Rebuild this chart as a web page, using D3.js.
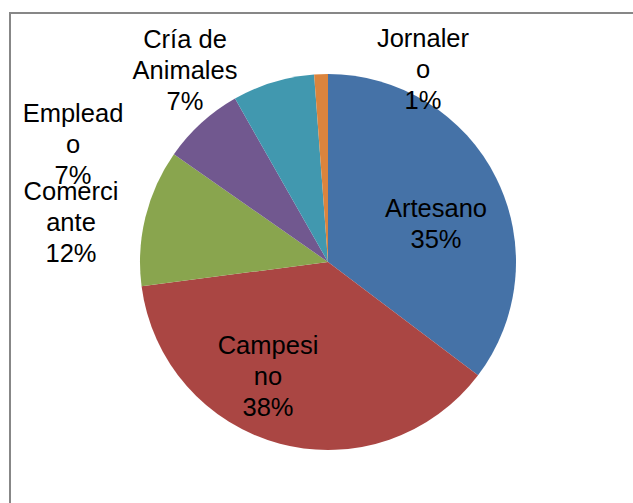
<!DOCTYPE html>
<html>
<head>
<meta charset="utf-8">
<script src="https://cdn.jsdelivr.net/npm/d3@7"></script>
<style>
  html, body { margin: 0; padding: 0; background: #fff; }
  svg { display: block; }
  .slice-label { font-family: "Liberation Sans", Arial, sans-serif; font-size: 25.5px; fill: #000; }
</style>
</head>
<body>
<svg id="chart"></svg>
<script>
// categories and counts (shown as rounded percentages)
const categories = ["Artesano", "Campesino", "Comerciante", "Empleado", "Cría de Animales", "Jornalero"];
const counts = [30, 32, 10, 6, 6, 1];
const sliceColors = ["#4572A7", "#AA4643", "#89A54E", "#71588F", "#4198AF", "#DB843D"];

// label placement (best fit) relative to the pie centre: [centre x, first baseline]
const labelPlacement = [[108, -45], [-60, 92], [-257, -62], [-255, -140], [-143, -214], [95, -215]];

const width = 633, height = 503;
const cx = 328, cy = 262, radius = 188;
const wrapWidth = 105.5, lineHeight = 31;

const svg = d3.select("#chart")
    .attr("width", width)
    .attr("height", height);

// chart area frame (only top/left edge visible in the cropped picture)
svg.append("rect")
    .attr("x", 10).attr("y", 13)
    .attr("width", 800).attr("height", 700)
    .attr("fill", "none")
    .attr("stroke", "#878787")
    .attr("stroke-width", 2);

const total = d3.sum(counts);
const data = categories.map((c, i) => ({cat: c, value: counts[i], color: sliceColors[i], place: labelPlacement[i]}));

const pie = d3.pie().sort(null).value(d => d.value);
const arc = d3.arc().innerRadius(0).outerRadius(radius);

const g = svg.append("g").attr("transform", `translate(${cx},${cy})`);

g.selectAll("path.slice")
    .data(pie(data))
    .join("path")
    .attr("class", "slice")
    .attr("d", arc)
    .attr("fill", d => d.data.color);

// wrap like the spreadsheet does: words first, then break inside a word if still too wide
function wrapLines(textSel, str) {
    const probe = textSel.append("tspan");
    const fits = s => { probe.text(s); return probe.node().getComputedTextLength() <= wrapWidth; };
    const lines = [];
    let cur = "";
    str.split(" ").forEach(word => {
        const trial = cur ? cur + " " + word : word;
        if (fits(trial)) { cur = trial; return; }
        if (cur) { lines.push(cur); cur = ""; }
        let w = word;
        while (!fits(w)) {
            let k = w.length - 1;
            while (k > 1 && !fits(w.slice(0, k))) k--;
            lines.push(w.slice(0, k));
            w = w.slice(k);
        }
        cur = w;
    });
    if (cur) lines.push(cur);
    probe.remove();
    return lines;
}

const fmt = d3.format(".0%");

g.selectAll("text.slice-label")
    .data(pie(data))
    .join("text")
    .attr("class", "slice-label")
    .attr("text-anchor", "middle")
    .each(function(d) {
        const t = d3.select(this);
        const lines = wrapLines(t, d.data.cat);
        lines.push(fmt(d.data.value / total));
        const [x, y] = d.data.place;
        lines.forEach((ln, i) => {
            t.append("tspan")
                .attr("x", x)
                .attr("y", y + i * lineHeight)
                .text(ln);
        });
    });
</script>
</body>
</html>
